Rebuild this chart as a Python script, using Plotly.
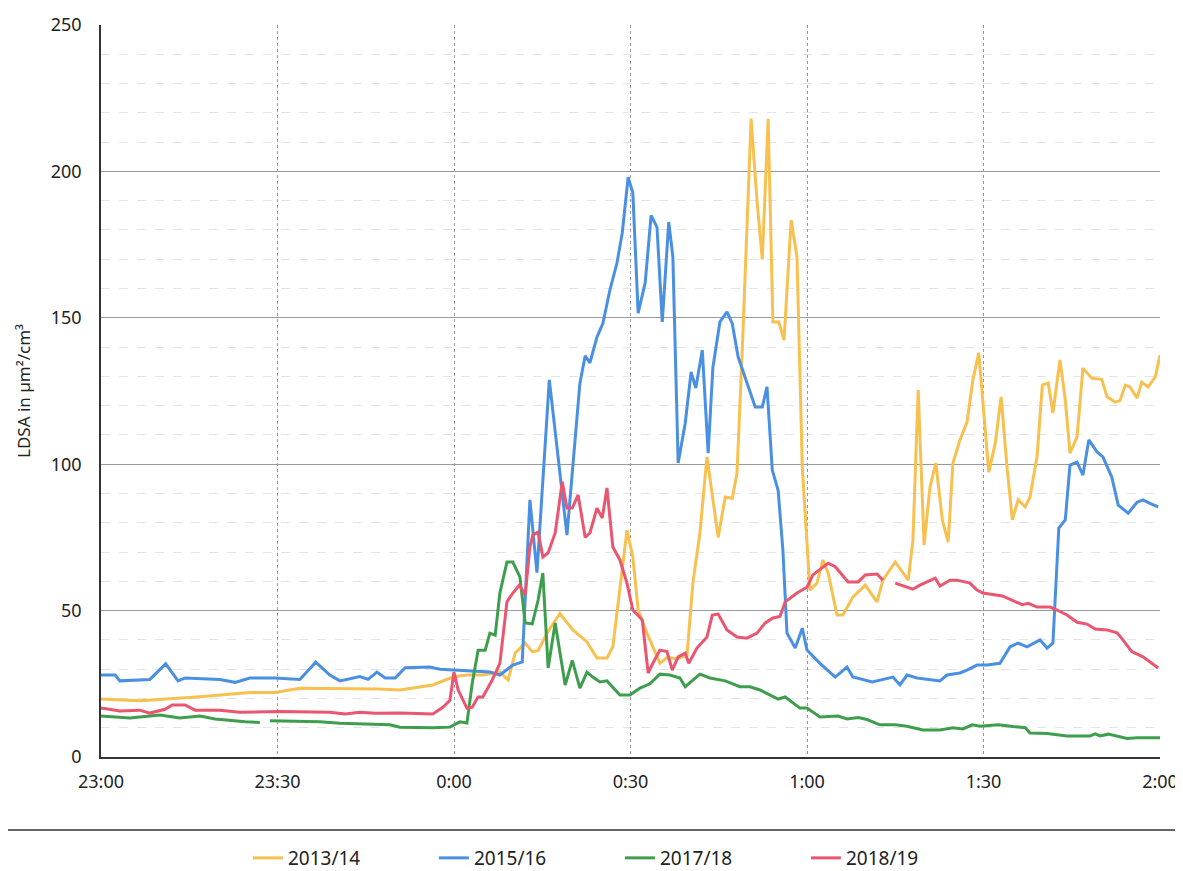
import plotly.graph_objects as go

# Minuten ab 23:00, LDSA in µm²/cm³
t_1314 = [0, 6.6, 16.8, 25.3, 29.6, 33.8, 47.4, 50.8, 56.4, 59.8, 62.2, 64.9, 67.8, 69.2, 70.4, 72.1,
          73.3, 74.3, 75.8, 78, 80.2, 82.6, 84.3, 86, 87, 88.6, 89.4, 90.4, 91.3, 92.8, 95, 96.2, 97.9,
          99.6, 100.6, 101.8, 103, 104.9, 106.1, 107.3, 108.1, 109, 109.8, 110.5, 111.5, 112.4, 113.4,
          114.2, 115.2, 116.1, 117.3, 118.3, 119.2, 120.5, 121.7, 122.7, 123.6, 125.1, 126.1, 127.8,
          129.9, 131.9, 132.9, 135, 137.2, 138, 138.9, 139.9, 140.9, 141.9, 143, 144, 144.8, 146, 147.2,
          148.2, 149.2, 149.9, 150.9, 152, 153, 154, 154.9, 155.9, 157.1, 157.9, 159.1, 160, 161, 161.8,
          163, 163.9, 164.7, 165.9, 166.9, 168.4, 170.1, 171, 172.4, 173.2, 174.1, 174.9, 176.1, 176.9,
          178, 179.2, 180]
v_1314 = [19.8, 19.2, 20.6, 22, 22, 23.5, 23.2, 22.9, 24.6, 27.3, 28, 28, 29, 26.3, 35.5, 38.9,
          36, 36.3, 42.3, 49, 43.4, 39.3, 33.8, 33.8, 37.6, 63.9, 77.5, 68.3, 50.2, 42.3, 32, 34, 33.6,
          34.8, 59.4, 76.5, 102.5, 75, 88.8, 88.4, 97, 139, 184, 218, 190, 170, 218,
          148.6, 148.6, 142.4, 183.4, 170.8, 99, 57, 59.4, 67.3, 62.8, 48.5, 48.5, 54.6,
          58.7, 53, 60.4, 66.6, 60.4, 74, 125.3, 72.4, 92.2, 100.4, 81, 73.4, 100.4, 108.3, 114.4,
          128.8, 138, 121, 97.3, 107.2, 123, 99, 81, 87.8, 85.4, 88.8, 102.5, 127, 127.7, 117.5,
          135.6, 122, 103.8, 109.3, 132.8, 129.4, 129, 123, 121.2, 121.7, 127, 126.4, 122.6, 128,
          126.4, 129.8, 137.3]

t_1516 = [0, 2.4, 3.2, 8.3, 11, 13.1, 14.3, 20.2, 22.8, 25.3, 29.6, 33.8, 36.5, 38.9, 40.6, 44,
          45.4, 46.9, 48.3, 50, 51.7, 55.9, 57.6, 62.7, 66.1, 67.8, 70, 71.6, 72.9, 74.1, 76.2, 79.2,
          81.4, 82.3, 83.1, 84.3, 85.3, 86.5, 87.7, 88.6, 89.6, 90.4, 91.3, 92.5, 93.5, 94.5, 95.4,
          96.5, 97.2, 98.1, 99.3, 100.3, 101.1, 102.2, 103.2, 104, 105.2, 106.4, 107.3, 108.3, 109.8,
          111.2, 112.4, 113.2, 114.1, 115.1, 115.9, 116.6, 118, 119.2, 120, 122.2, 124.8, 126.8, 127.8,
          131.1, 134.6, 135.8, 137, 138.7, 142.6, 143.8, 146, 147.2, 148.9, 150.6, 152.8, 154.5, 155.9,
          157.4, 159.6, 160.8, 161.8, 162.8, 163.9, 164.7, 165.9, 166.9, 167.9, 169.3, 170.3, 171.8,
          172.9, 174.6, 176.1, 177.1, 178.3, 179.7]
v_1516 = [28, 28, 26, 26.5, 31.8, 26, 27, 26.5, 25.5, 27, 27, 26.5, 32.4, 28, 26, 27.5,
          26.5, 29, 27, 27, 30.5, 30.7, 30, 29.5, 29, 28, 31.4, 32.5, 87.8, 63, 128.8, 75.8,
          127.7, 137, 134.6, 143.4, 148, 159.5, 168.7, 179, 198, 192.6, 151.6, 162, 185, 181, 148.6,
          182.7, 170.8, 100.4, 114, 131.5, 126, 139, 103.8, 133, 148.6, 152, 148, 136.6, 127.7,
          119.5, 119.5, 126.4, 98, 91, 70.7, 42.3, 37.2, 44, 36.5, 32, 27.3, 30.7, 27.3,
          25.6, 27.3, 24.6, 28, 27, 26, 28, 28.7, 29.7, 31.4, 31.4, 32, 37.6, 38.9,
          37.6, 40, 37.2, 38.9, 78.2, 81, 99.7, 100.7, 96.3, 108.3, 104.2, 102.5, 95.6,
          86, 83.3, 87, 87.8, 86.6, 85.4]

t_1718 = [0, 4.9, 10, 13.4, 16.8, 19.4, 24.5, 27, 27.8, 28.7, 37.2, 40.6, 49.1, 50.8, 56.4, 59.3,
          61, 62.2, 63.1, 64.1, 65.3, 66.1, 67, 67.8, 69, 70, 71.2, 72.1, 73.3, 74.3, 75.1, 76,
          77.2, 78.9, 80.1, 81.4, 82.6, 83.6, 84.8, 86, 88.2, 89.9, 91.6, 93.3, 95, 96.7, 98.4, 99.3,
          101.3, 101.8, 103.5, 106.1, 108.6, 110.3, 112, 115.1, 116.3, 118.8, 120, 122.2, 125.3, 126.8,
          128.7, 130.2, 132.4, 135, 137, 139.7, 142.6, 144.8, 146.5, 148.1, 149.4, 152.5, 155, 157.1,
          157.9, 160.8, 164.2, 168.1, 169, 169.8, 171.2, 174.4, 176.1, 180]
v_1718 = [14, 13.3, 14.3, 13.3, 14, 13, 12, 11.8, None, 12.4, 12, 11.5, 11, 10.2, 10, 10.2,
          12, 11.6, 25.2, 36.5, 36.5, 42.3, 41.6, 56, 66.6, 66.6, 61.5, 45.8, 45.5, 53.6, 62.8, 30.4,
          45.8, 24.6, 33, 23.5, 29, 27.3, 25.6, 26, 21.2, 21.2, 23.5, 25, 28.3, 28, 27, 24,
          27.3, 28.3, 27, 26, 24, 24, 22.9, 19.8, 20.5, 16.7, 16.7, 13.7, 14, 13,
          13.5, 12.8, 11, 11, 10.5, 9.2, 9.2, 10, 9.6, 11, 10.5, 11, 10.4, 10,
          8.2, 8, 7.2, 7.2, 7.9, 7.2, 7.8, 6.3, 6.6, 6.6]

t_1819 = [0, 3.2, 6.6, 8.3, 10.9, 12.1, 14.3, 16, 20.2, 23.6, 30.4, 38.9, 41.5, 44, 46.6, 50.8,
          56.4, 58.1, 59.3, 60, 60.7, 62.2, 63.1, 64.1, 64.9, 66.5, 67.8, 69, 70, 71.1, 72.1, 72.9,
          73.4, 74.3, 75.1, 76, 77.2, 78.4, 79.2, 80.1, 81.1, 82.3, 83.1, 84.3, 85.2, 86, 87, 88.2,
          89.4, 90.4, 92, 93, 93.8, 95, 96.2, 97.1, 98.1, 99.3, 99.9, 101.3, 103, 103.9, 104.9, 106.4,
          108.1, 109.8, 111.5, 112.9, 114.2, 115.4, 116.3, 118.3, 120, 121, 123.6, 124.8, 127, 128.7,
          129.9, 131.9, 132.9, 134, 135, 138, 139.2, 140.6, 141.8, 142.6, 144.3, 145.5, 147.7, 148.9,
          149.9, 153.2, 155, 156.6, 157.6, 159.1, 161.3, 162.5, 164.2, 165.9, 167.6, 169, 171, 172.7,
          173.7, 175.2, 177.1, 178.3, 179.7]
v_1819 = [16.7, 15.7, 16, 15, 16.3, 17.8, 17.8, 16, 16, 15.3, 15.5, 15.3, 14.7, 15.3, 14.9, 15,
          14.7, 17, 19.4, 29, 22.9, 16.7, 17, 20.5, 20.5, 26.3, 32, 53, 56, 58.7, 55.3, 71.7,
          75.8, 76.8, 68.3, 69.7, 76.5, 94, 85, 85, 89.5, 75, 76.5, 85, 81.6, 91.9, 71.7, 67.3,
          59.4, 50.2, 46.8, 28.7, 32, 36.5, 36, 29.7, 34.2, 35.5, 32, 37.2, 41, 48.5, 48.8, 43.4,
          41, 40.6, 42.3, 45.8, 47.5, 48, 53, 56, 58, 62.2, 66.2, 65, 59.8, 59.8,
          62.2, 62.5, 60.4, None, 59.4, 57.3, 58.7, 60, 61.1, 58.4, 60.4, 60.4, 59.4, 57,
          56, 55, 53.3, 52, 52.5, 51.2, 51.2, 50.2, 48.5, 46, 45.4, 43.7, 43.4, 42.4,
          40, 36, 34.2, 32.4, 30.4]

tick_vals = [0, 30, 60, 90, 120, 150, 180]
tick_text = ["23:00", "23:30", "0:00", "0:30", "1:00", "1:30", "2:00"]

series = [
    ("2013/14", t_1314, v_1314, "#F7C04F"),
    ("2015/16", t_1516, v_1516, "#4A90E2"),
    ("2017/18", t_1718, v_1718, "#3F9E4D"),
    ("2018/19", t_1819, v_1819, "#EA5570"),
]

fig = go.Figure()
for name, t, v, col in series:
    fig.add_trace(go.Scatter(x=t, y=v, name=name, mode="lines",
                             line=dict(color=col, width=3), connectgaps=False))

# Seite hat 8px Rand -> Figur etwas kleiner, Ränder fest
fig.update_layout(
    width=1175, height=863,
    margin=dict(l=93, r=23, t=17, b=114, autoexpand=False),
    paper_bgcolor="white", plot_bgcolor="white",
    font=dict(family="Noto Sans", size=18, color="#222"),
    showlegend=True,
    legend=dict(orientation="h", x=0.49, xanchor="center", y=-0.138, yanchor="middle",
                entrywidth=141, font=dict(size=19, color="#222")),
)
fig.update_xaxes(range=[0, 180], tickvals=tick_vals, ticktext=tick_text,
                 showgrid=True, gridcolor="#999", griddash="dot", gridwidth=1,
                 showline=True, linecolor="#333", linewidth=1.5, zeroline=False,
                 ticks="", ticklabelstandoff=8, tickfont=dict(size=18),
                 ticklabeloverflow="allow", automargin=False)
fig.update_yaxes(range=[0, 250], dtick=50, title_text="LDSA in µm²/cm³",
                 title_font=dict(size=17), title_standoff=16,
                 showgrid=True, gridcolor="#9a9a9a", gridwidth=1,
                 minor=dict(dtick=10, showgrid=True, gridcolor="#e4e4e4", griddash="dash"),
                 showline=True, linecolor="#333", linewidth=1.5, zeroline=False,
                 ticks="", ticklabelstandoff=14, tickfont=dict(size=18), automargin=False)

# Trennlinie über der Legende
fig.add_shape(type="line", xref="paper", yref="paper", x0=-0.1, x1=1.03,
              y0=-0.0997, y1=-0.0997, line=dict(color="#333", width=1.5))

fig.write_html("out.html")
